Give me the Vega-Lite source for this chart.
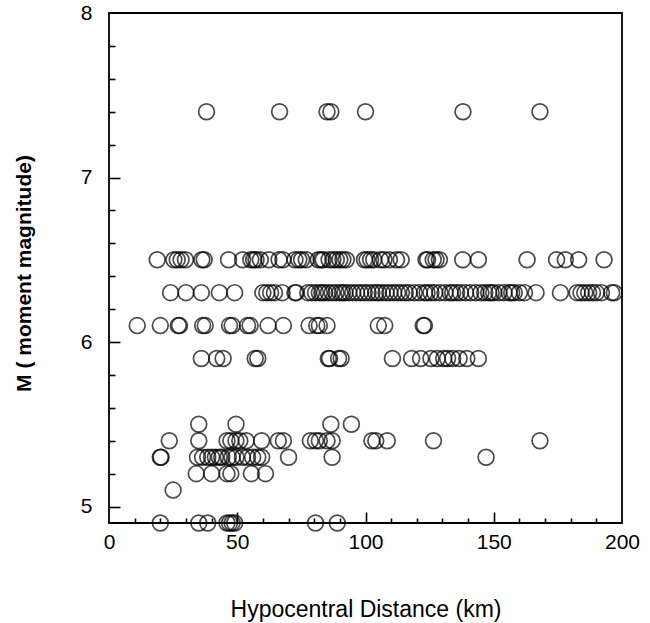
{
  "$schema": "https://vega.github.io/schema/vega-lite/v6.json",
  "width": 513,
  "height": 510,
  "autosize": {"type": "none"},
  "padding": {"left": 109, "top": 13, "right": 28, "bottom": 100},
  "background": "white",
  "config": {
    "view": {"stroke": "black", "strokeWidth": 1.8},
    "font": "Liberation Sans",
    "axis": {"domain": false, "grid": false, "labelColor": "black", "titleColor": "black", "tickColor": "black", "tickWidth": 1.6, "labelFont": "Liberation Sans", "titleFont": "Liberation Sans"}
  },
  "datasets": {
    "quakes": [
      {"d": 38, "m": 7.4}, {"d": 66.5, "m": 7.4}, {"d": 85, "m": 7.4}, {"d": 86.5, "m": 7.4}, {"d": 100, "m": 7.4}, {"d": 138, "m": 7.4}, {"d": 168, "m": 7.4},
      {"d": 18.8, "m": 6.5}, {"d": 25.3, "m": 6.5}, {"d": 26.6, "m": 6.5}, {"d": 28.1, "m": 6.5}, {"d": 29.8, "m": 6.5}, {"d": 36.2, "m": 6.5}, {"d": 37.1, "m": 6.5}, {"d": 46.6, "m": 6.5}, {"d": 52.1, "m": 6.5}, {"d": 55.3, "m": 6.5}, {"d": 56.4, "m": 6.5}, {"d": 57.3, "m": 6.5}, {"d": 59, "m": 6.5}, {"d": 62.3, "m": 6.5}, {"d": 66.3, "m": 6.5}, {"d": 67.8, "m": 6.5}, {"d": 72.5, "m": 6.5}, {"d": 74, "m": 6.5}, {"d": 75.1, "m": 6.5}, {"d": 76.9, "m": 6.5}, {"d": 81.6, "m": 6.5}, {"d": 82.7, "m": 6.5}, {"d": 83.5, "m": 6.5}, {"d": 85.8, "m": 6.5}, {"d": 87.3, "m": 6.5}, {"d": 88.6, "m": 6.5}, {"d": 90, "m": 6.5}, {"d": 91.2, "m": 6.5}, {"d": 92.5, "m": 6.5}, {"d": 99.6, "m": 6.5}, {"d": 100.6, "m": 6.5}, {"d": 102, "m": 6.5}, {"d": 103.2, "m": 6.5}, {"d": 105.8, "m": 6.5}, {"d": 107.2, "m": 6.5}, {"d": 109.3, "m": 6.5}, {"d": 112.1, "m": 6.5}, {"d": 113.9, "m": 6.5}, {"d": 123.6, "m": 6.5}, {"d": 124.2, "m": 6.5}, {"d": 126.4, "m": 6.5}, {"d": 127.5, "m": 6.5}, {"d": 128.8, "m": 6.5}, {"d": 137.9, "m": 6.5}, {"d": 144, "m": 6.5}, {"d": 163, "m": 6.5}, {"d": 174.5, "m": 6.5}, {"d": 177.9, "m": 6.5}, {"d": 183.1, "m": 6.5}, {"d": 193, "m": 6.5},
      {"d": 24, "m": 6.3}, {"d": 30, "m": 6.3}, {"d": 36, "m": 6.3}, {"d": 43, "m": 6.3}, {"d": 49, "m": 6.3}, {"d": 60, "m": 6.3}, {"d": 61.5, "m": 6.3}, {"d": 63, "m": 6.3}, {"d": 64.5, "m": 6.3}, {"d": 67.5, "m": 6.3}, {"d": 72.5, "m": 6.3}, {"d": 73, "m": 6.3}, {"d": 77.5, "m": 6.3}, {"d": 79, "m": 6.3}, {"d": 80.5, "m": 6.3}, {"d": 82, "m": 6.3}, {"d": 83, "m": 6.3}, {"d": 84, "m": 6.3}, {"d": 85.5, "m": 6.3}, {"d": 87, "m": 6.3}, {"d": 88.5, "m": 6.3}, {"d": 90, "m": 6.3}, {"d": 91, "m": 6.3}, {"d": 92, "m": 6.3}, {"d": 93.5, "m": 6.3}, {"d": 95, "m": 6.3}, {"d": 96.5, "m": 6.3}, {"d": 98, "m": 6.3}, {"d": 99.5, "m": 6.3}, {"d": 101, "m": 6.3}, {"d": 102.5, "m": 6.3}, {"d": 104, "m": 6.3}, {"d": 105, "m": 6.3}, {"d": 106.5, "m": 6.3}, {"d": 108, "m": 6.3}, {"d": 109.5, "m": 6.3}, {"d": 111, "m": 6.3}, {"d": 112.5, "m": 6.3}, {"d": 114, "m": 6.3}, {"d": 115.5, "m": 6.3}, {"d": 117, "m": 6.3}, {"d": 119, "m": 6.3}, {"d": 121, "m": 6.3}, {"d": 123, "m": 6.3}, {"d": 124, "m": 6.3}, {"d": 125.5, "m": 6.3}, {"d": 127, "m": 6.3}, {"d": 129, "m": 6.3}, {"d": 131, "m": 6.3}, {"d": 133, "m": 6.3}, {"d": 134, "m": 6.3}, {"d": 135.5, "m": 6.3}, {"d": 137, "m": 6.3}, {"d": 139, "m": 6.3}, {"d": 141, "m": 6.3}, {"d": 143, "m": 6.3}, {"d": 145, "m": 6.3}, {"d": 146.5, "m": 6.3}, {"d": 148, "m": 6.3}, {"d": 149, "m": 6.3}, {"d": 150, "m": 6.3}, {"d": 152, "m": 6.3}, {"d": 154, "m": 6.3}, {"d": 156, "m": 6.3}, {"d": 157, "m": 6.3}, {"d": 158, "m": 6.3}, {"d": 160, "m": 6.3}, {"d": 162, "m": 6.3}, {"d": 166.5, "m": 6.3}, {"d": 176, "m": 6.3}, {"d": 182.5, "m": 6.3}, {"d": 184, "m": 6.3}, {"d": 185.5, "m": 6.3}, {"d": 187, "m": 6.3}, {"d": 188.5, "m": 6.3}, {"d": 190, "m": 6.3}, {"d": 192, "m": 6.3}, {"d": 196, "m": 6.3}, {"d": 197, "m": 6.3},
      {"d": 11, "m": 6.1}, {"d": 20, "m": 6.1}, {"d": 27, "m": 6.1}, {"d": 27.5, "m": 6.1}, {"d": 36.5, "m": 6.1}, {"d": 37.5, "m": 6.1}, {"d": 47, "m": 6.1}, {"d": 48, "m": 6.1}, {"d": 54, "m": 6.1}, {"d": 55, "m": 6.1}, {"d": 62, "m": 6.1}, {"d": 68, "m": 6.1}, {"d": 78, "m": 6.1}, {"d": 81, "m": 6.1}, {"d": 82, "m": 6.1}, {"d": 85, "m": 6.1}, {"d": 105, "m": 6.1}, {"d": 107.5, "m": 6.1}, {"d": 122.5, "m": 6.1}, {"d": 123, "m": 6.1},
      {"d": 36, "m": 5.9}, {"d": 42, "m": 5.9}, {"d": 44.5, "m": 5.9}, {"d": 57, "m": 5.9}, {"d": 58, "m": 5.9}, {"d": 85.5, "m": 5.9}, {"d": 86, "m": 5.9}, {"d": 89.5, "m": 5.9}, {"d": 90.5, "m": 5.9}, {"d": 110.5, "m": 5.9}, {"d": 118, "m": 5.9}, {"d": 121.5, "m": 5.9}, {"d": 125.5, "m": 5.9}, {"d": 128, "m": 5.9}, {"d": 130.5, "m": 5.9}, {"d": 132, "m": 5.9}, {"d": 134, "m": 5.9}, {"d": 136.5, "m": 5.9}, {"d": 139.5, "m": 5.9}, {"d": 144, "m": 5.9},
      {"d": 35, "m": 5.5}, {"d": 49.5, "m": 5.5}, {"d": 86.5, "m": 5.5}, {"d": 94.5, "m": 5.5},
      {"d": 23.5, "m": 5.4}, {"d": 35, "m": 5.4}, {"d": 46, "m": 5.4}, {"d": 47.5, "m": 5.4}, {"d": 49.5, "m": 5.4}, {"d": 51, "m": 5.4}, {"d": 53.5, "m": 5.4}, {"d": 59.5, "m": 5.4}, {"d": 66, "m": 5.4}, {"d": 68, "m": 5.4}, {"d": 78.5, "m": 5.4}, {"d": 80.5, "m": 5.4}, {"d": 82, "m": 5.4}, {"d": 85, "m": 5.4}, {"d": 87, "m": 5.4}, {"d": 102.5, "m": 5.4}, {"d": 104, "m": 5.4}, {"d": 108.5, "m": 5.4}, {"d": 126.5, "m": 5.4}, {"d": 168, "m": 5.4},
      {"d": 20, "m": 5.3}, {"d": 20.3, "m": 5.3}, {"d": 34.5, "m": 5.3}, {"d": 36.5, "m": 5.3}, {"d": 38.5, "m": 5.3}, {"d": 40, "m": 5.3}, {"d": 41.5, "m": 5.3}, {"d": 43, "m": 5.3}, {"d": 44, "m": 5.3}, {"d": 46.5, "m": 5.3}, {"d": 48, "m": 5.3}, {"d": 49.5, "m": 5.3}, {"d": 52, "m": 5.3}, {"d": 54, "m": 5.3}, {"d": 56, "m": 5.3}, {"d": 58, "m": 5.3}, {"d": 59.5, "m": 5.3}, {"d": 70, "m": 5.3}, {"d": 87, "m": 5.3}, {"d": 147, "m": 5.3},
      {"d": 34, "m": 5.2}, {"d": 40, "m": 5.2}, {"d": 46, "m": 5.2}, {"d": 47.5, "m": 5.2}, {"d": 55.5, "m": 5.2}, {"d": 61, "m": 5.2},
      {"d": 25, "m": 5.1},
      {"d": 20, "m": 4.9}, {"d": 35, "m": 4.9}, {"d": 38.5, "m": 4.9}, {"d": 46, "m": 4.9}, {"d": 47, "m": 4.9}, {"d": 48, "m": 4.9}, {"d": 49, "m": 4.9}, {"d": 80.5, "m": 4.9}, {"d": 89, "m": 4.9}
    ]
  },
  "data": {"name": "quakes"},
  "layer": [
    {
      "mark": {"type": "point", "shape": "circle", "filled": false, "stroke": "black", "strokeWidth": 1.7, "size": 250, "clip": false},
      "encoding": {
        "x": {
          "field": "d", "type": "quantitative",
          "scale": {"domain": [0, 200], "nice": false, "zero": false},
          "axis": {
            "title": "Hypocentral Distance (km)",
            "values": [0, 50, 100, 150, 200],
            "ticks": false,
            "labelFontSize": 21,
            "labelPadding": 8,
            "labelFlush": false,
            "labelOverlap": false,
            "titleFontSize": 23,
            "titleFontWeight": "normal",
            "titleBaseline": "alphabetic",
            "titleY": 93
          }
        },
        "y": {
          "field": "m", "type": "quantitative",
          "scale": {"domain": [4.9, 8], "nice": false, "zero": false},
          "axis": {
            "title": "M ( moment magnitude)",
            "values": [5, 6, 7, 8],
            "format": "d",
            "ticks": false,
            "labelFontSize": 21,
            "labelPadding": 17,
            "labelFlush": false,
            "labelOverlap": false,
            "titleFontSize": 21,
            "titleFontWeight": "bold",
            "titleBaseline": "middle",
            "titleAngle": 270,
            "titleX": -85,
            "titleY": 260
          }
        }
      }
    },
    {
      "mark": {"type": "point", "shape": "circle", "opacity": 0, "size": 10},
      "encoding": {
        "x": {
          "field": "d", "type": "quantitative",
          "axis": {
            "orient": "top",
            "offset": -510,
            "title": null,
            "labels": false,
            "ticks": true,
            "values": [10, 20, 30, 40, 60, 70, 80, 90, 110, 120, 130, 140, 160, 170, 180, 190],
            "tickSize": 5,
            "zindex": 2
          }
        },
        "y": {
          "field": "m", "type": "quantitative",
          "axis": {
            "orient": "right",
            "offset": -513,
            "title": null,
            "labels": false,
            "ticks": true,
            "values": [5.2, 5.4, 5.6, 5.8, 6.2, 6.4, 6.6, 6.8, 7.2, 7.4, 7.6, 7.8],
            "tickSize": 6,
            "zindex": 2
          }
        }
      }
    },
    {
      "mark": {"type": "point", "shape": "circle", "opacity": 0, "size": 10},
      "encoding": {
        "x": {
          "field": "d", "type": "quantitative",
          "axis": {
            "orient": "top",
            "offset": -510,
            "title": null,
            "labels": false,
            "ticks": true,
            "values": [50, 100, 150],
            "tickSize": 11,
            "zindex": 2
          }
        },
        "y": {
          "field": "m", "type": "quantitative",
          "axis": {
            "orient": "right",
            "offset": -513,
            "title": null,
            "labels": false,
            "ticks": true,
            "values": [5, 6, 7],
            "tickSize": 11,
            "zindex": 2
          }
        }
      }
    }
  ],
  "resolve": {"axis": {"x": "independent", "y": "independent"}}
}
